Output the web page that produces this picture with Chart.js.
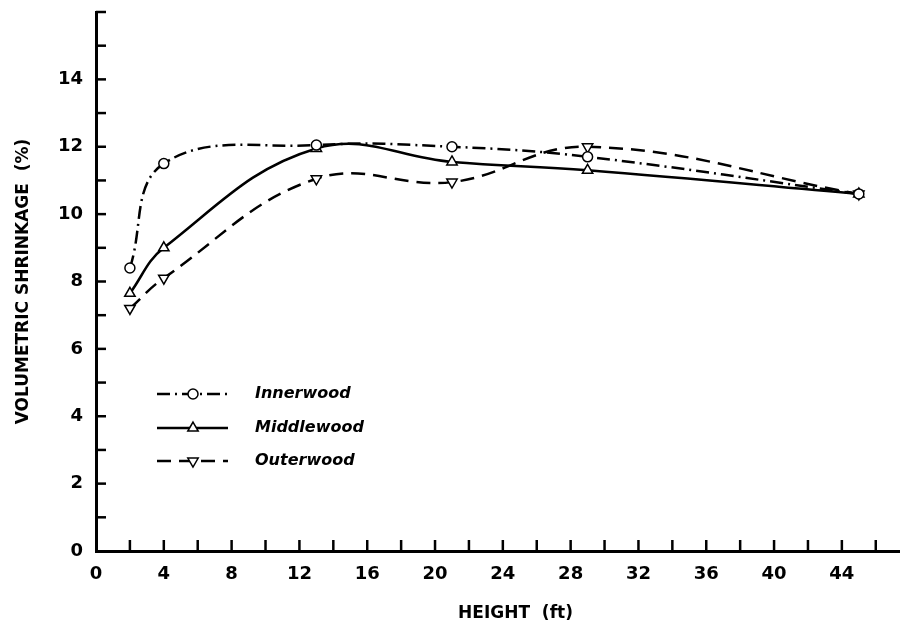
<!DOCTYPE html>
<html>
<head>
<meta charset="utf-8">
<script src="https://cdn.jsdelivr.net/npm/chart.js@4"></script>
<style>
  html, body { margin: 0; padding: 0; background: #fff; }
  #wrap { width: 907px; height: 626px; position: relative; }
</style>
</head>
<body>
<div id="wrap"><canvas id="myChart"></canvas></div>
<script>
// heights where samples were taken (ft)
var heights = [2, 4, 13, 21, 29, 45];
// volumetric shrinkage (%)
var innerwood = [8.4, 11.5, 12.05, 12.0, 11.7, 10.6];
var middlewood = [7.65, 9.0, 11.95, 11.55, 11.3, 10.6];
var outerwood = [7.2, 8.1, 11.05, 10.95, 12.0, 10.6];

var xTickLabels = [0, 4, 8, 12, 16, 20, 24, 28, 32, 36, 40, 44];
var yTickLabels = [0, 2, 4, 6, 8, 10, 12, 14];

var FONT = "'DejaVu Sans', Verdana, sans-serif";

function toPoints(values) {
  var pts = [];
  for (var i = 0; i < heights.length; i++) {
    pts.push({ x: heights[i], y: values[i] });
  }
  return pts;
}

// styles for each series, also used by the legend
var seriesStyle = [
  { label: "Innerwood", data: innerwood, dash: [13, 5, 2, 5], shape: "circle", rot: 0, radius: 5 },
  { label: "Middlewood", data: middlewood, dash: [], shape: "triangle", rot: 0, radius: 6 },
  { label: "Outerwood", data: outerwood, dash: [14, 8], shape: "triangle", rot: 180, radius: 6 }
];

// inward tick marks on both axes
var inwardTicks = {
  id: "inwardTicks",
  afterDraw: function(chart) {
    var ctx = chart.ctx;
    var xs = chart.scales.x, ys = chart.scales.y;
    var area = chart.chartArea;
    ctx.save();
    ctx.strokeStyle = "#000";
    ctx.lineWidth = 2.5;
    for (var v = 2; v <= 46; v += 2) {
      var px = xs.getPixelForValue(v);
      ctx.beginPath();
      ctx.moveTo(px, area.bottom);
      ctx.lineTo(px, area.bottom - 11);
      ctx.stroke();
    }
    for (var w = 1; w <= 16; w++) {
      var py = ys.getPixelForValue(w);
      ctx.beginPath();
      ctx.moveTo(area.left, py);
      ctx.lineTo(area.left + 10, py);
      ctx.stroke();
    }
    ctx.restore();
  }
};

// legend drawn inside the plot, lower left
var insideLegend = {
  id: "insideLegend",
  afterDraw: function(chart) {
    var ctx = chart.ctx;
    var rows = [394, 428, 461];
    ctx.save();
    for (var i = 0; i < seriesStyle.length; i++) {
      var s = seriesStyle[i];
      var y = rows[i];
      ctx.strokeStyle = "#000";
      ctx.lineWidth = 2.5;
      ctx.setLineDash(s.dash);
      ctx.beginPath();
      ctx.moveTo(157, y);
      ctx.lineTo(228, y);
      ctx.stroke();
      ctx.setLineDash([]);
      ctx.lineWidth = 1.5;
      ctx.fillStyle = "#fff";
      Chart.helpers.drawPoint(ctx, { pointStyle: s.shape, radius: s.radius, rotation: s.rot, borderWidth: 1.5 }, 193, y);
      ctx.fillStyle = "#000";
      ctx.font = "italic bold 16px " + FONT;
      ctx.textAlign = "left";
      ctx.textBaseline = "middle";
      ctx.fillText(s.label, 255, y);
    }
    ctx.restore();
  }
};

var datasets = seriesStyle.map(function(s) {
  return {
    label: s.label,
    data: toPoints(s.data),
    borderColor: "#000",
    borderWidth: 2.5,
    borderDash: s.dash,
    tension: 0.4,
    pointStyle: s.shape,
    pointRotation: s.rot,
    pointRadius: s.radius,
    pointBorderWidth: 1.5,
    pointBackgroundColor: "#fff",
    pointBorderColor: "#000",
    fill: false
  };
});

var ctx = document.getElementById("myChart").getContext("2d");
var myChart = new Chart(ctx, {
  type: "line",
  data: { datasets: datasets },
  plugins: [inwardTicks, insideLegend],
  options: {
    responsive: true,
    maintainAspectRatio: false,
    animation: false,
    layout: { padding: { top: 12, right: 0, left: 0, bottom: 0 } },
    plugins: { legend: { display: false }, tooltip: { enabled: false } },
    scales: {
      x: {
        type: "linear",
        min: 0,
        max: 47.4,
        afterBuildTicks: function(scale) {
          scale.ticks = xTickLabels.map(function(v) { return { value: v }; });
        },
        afterFit: function(scale) { scale.height = 75; },
        grid: { display: true, drawOnChartArea: false, drawTicks: false },
        border: { display: true, color: "#000", width: 3 },
        ticks: {
          color: "#000",
          padding: 13,
          maxRotation: 0,
          autoSkip: false,
          font: { family: FONT, size: 18, weight: "bold" }
        },
        title: {
          display: true,
          text: "      HEIGHT  (ft)",
          color: "#000",
          padding: { top: 0, bottom: 2 },
          font: { family: FONT, size: 17, weight: "bold" }
        }
      },
      y: {
        min: 0,
        max: 16,
        afterBuildTicks: function(scale) {
          scale.ticks = yTickLabels.map(function(v) { return { value: v }; });
        },
        afterFit: function(scale) {
          scale.width = 96;
          scale.paddingTop = 0;
          scale.paddingBottom = 0;
        },
        grid: { display: true, drawOnChartArea: false, drawTicks: false },
        border: { display: true, color: "#000", width: 3 },
        ticks: {
          color: "#000",
          padding: 13,
          autoSkip: false,
          font: { family: FONT, size: 18, weight: "bold" }
        },
        title: {
          display: true,
          text: "VOLUMETRIC SHRINKAGE  (%)",
          color: "#000",
          padding: { top: 13, bottom: 0 },
          font: { family: FONT, size: 17, weight: "bold" }
        }
      }
    }
  }
});
</script>
</body>
</html>
